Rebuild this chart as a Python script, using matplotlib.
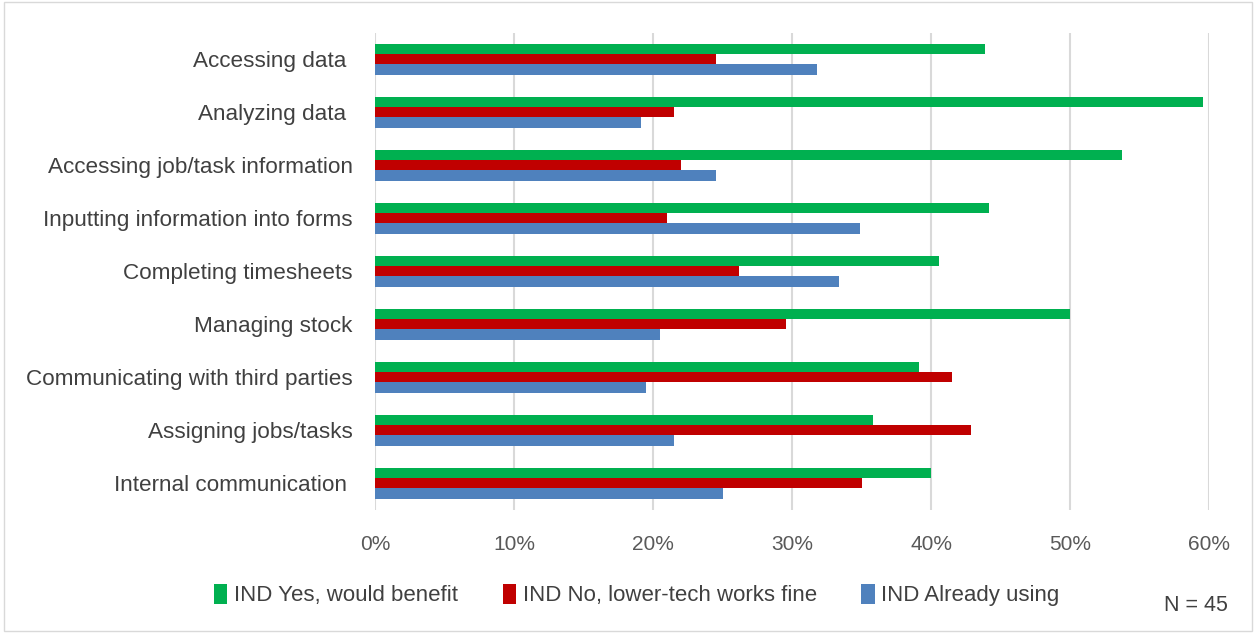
import matplotlib.pyplot as plt
import numpy as np
from matplotlib.patches import Rectangle

# Données (en %)
categories = ["Accessing data ", "Analyzing data ", "Accessing job/task information",
              "Inputting information into forms", "Completing timesheets",
              "Managing stock", "Communicating with third parties",
              "Assigning jobs/tasks", "Internal communication "]
yes_benefit = [43.9, 59.6, 53.75, 44.2, 40.55, 50.0, 39.1, 35.8, 40.0]
no_lowtech = [24.5, 21.5, 22.0, 21.0, 26.2, 29.6, 41.5, 42.9, 35.0]
already_using = [31.8, 19.1, 24.5, 34.9, 33.4, 20.5, 19.5, 21.5, 25.0]
series_names = ["IND Yes, would benefit", "IND No, lower-tech works fine", "IND Already using"]
colors = ["#00B050", "#C00000", "#4F81BD"]
xticks = [0, 10, 20, 30, 40, 50, 60]

plt.rcParams['font.family'] = ['Liberation Sans', 'DejaVu Sans']

fig = plt.figure(figsize=(12.56, 6.33), dpi=100)
ax = fig.add_axes([0.2986, 0.195, 0.664, 0.7536])

y = np.arange(len(categories))[::-1]
h = 0.195
for i, (vals, col, name) in enumerate(zip([yes_benefit, no_lowtech, already_using], colors, series_names)):
    ax.barh(y + (1 - i) * h, vals, height=h, color=col, label=name, zorder=3)

ax.set_xlim(0, 60)
ax.set_ylim(-0.5, len(categories) - 0.5)
ax.set_xticks(xticks)
ax.set_xticklabels([f"{t}%" for t in xticks])
ax.set_yticks(y)
ax.set_yticklabels(categories)
ax.tick_params(axis='both', length=0)
ax.tick_params(axis='x', pad=18, labelsize=15, colors="#595959")
ax.tick_params(axis='y', pad=16, labelsize=16.2, colors="#404040")
ax.grid(axis='x', color="#d9d9d9", linewidth=1.5, zorder=0)
for s in ax.spines.values():
    s.set_visible(False)

leg = fig.legend(loc='center', bbox_to_anchor=(0.507, 0.06), ncol=3, frameon=False,
                 fontsize=16, handlelength=0.6, handleheight=1.0, handletextpad=0.3,
                 columnspacing=2.0, labelcolor="#404040")

fig.text(0.978, 0.043, "N = 45", ha='right', va='center', fontsize=15.5, color="#404040")
fig.patches.append(Rectangle((0.003, 0.003), 0.994, 0.994, transform=fig.transFigure,
                             fill=False, edgecolor="#d9d9d9", linewidth=1))

fig.savefig("out.png", dpi=100)
